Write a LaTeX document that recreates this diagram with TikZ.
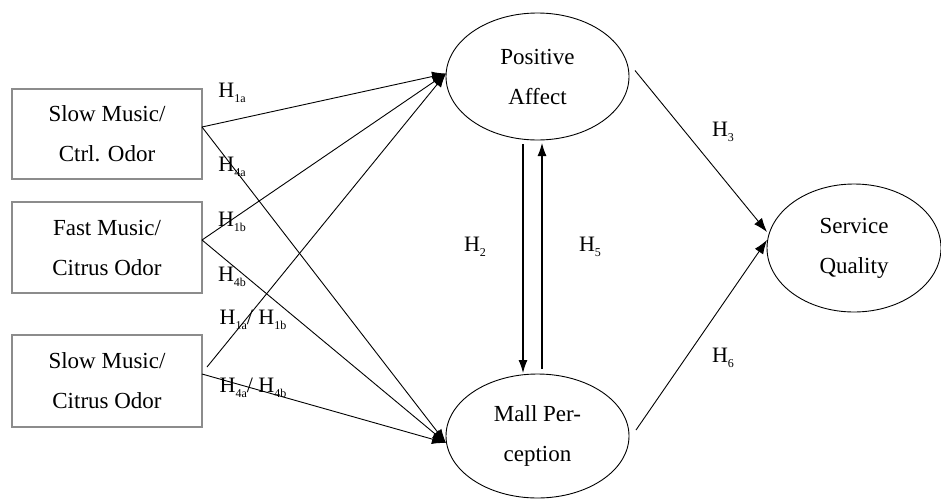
\documentclass[tikz,border=0pt]{standalone}
\usepackage{fontspec}
\setmainfont{Liberation Serif}
\usetikzlibrary{shapes.geometric,arrows.meta}
\newcommand\hyp[1]{H\raisebox{-0.45ex}{\fontsize{12}{12}\selectfont #1}}
\begin{document}
\begin{tikzpicture}[x=1pt,y=-1pt,
  every node/.style={inner sep=0pt,outer sep=0pt},
  txt/.style={font=\fontsize{23}{40}\selectfont,align=center},
  boxnode/.style={draw=black!45,line width=1.4pt,minimum width=190pt,txt},
  ellnode/.style={draw,ellipse,line width=0.9pt,txt},
  lab/.style={font=\fontsize{22}{24}\selectfont},
  arr/.style={line width=0.9pt,-{Latex[length=14pt,width=10pt]}},
  varr/.style={line width=1.1pt,-{Latex[length=13pt,width=9pt]}}]
\useasboundingbox (0,0) rectangle (941,498);
% boxes
\node[boxnode,minimum height=90pt] (b1) at (107,134) {Slow Music/\\Ctrl. Odor};
\node[boxnode,minimum height=91pt] (b2) at (107,247.5) {Fast Music/\\Citrus Odor};
\node[boxnode,minimum height=92pt] (b3) at (107,381) {Slow Music/\\Citrus Odor};
% ellipses
\node[ellnode,minimum width=183pt,minimum height=127pt] (pa) at (537.5,76.5) {Positive\\Affect};
\node[ellnode,minimum width=183pt,minimum height=124pt] (mp) at (537.5,436) {Mall Per-\\ception};
\node[ellnode,minimum width=174pt,minimum height=128pt] (sq) at (854,248) {Service\\Quality};
% anchors
\coordinate (pain) at ([yshift=3pt]pa.west);
\coordinate (mpin) at ([yshift=-7pt]mp.west);
% arrows from boxes
\draw[arr] ([yshift=7pt]b1.east) -- (pain);
\draw[arr] ([yshift=7pt]b1.east) -- (mpin);
\draw[arr] ([yshift=7.5pt]b2.east) -- (pain);
\draw[arr] ([yshift=7.5pt]b2.east) -- (mpin);
\draw[arr] ([xshift=5pt,yshift=14pt]b3.east) -- (pain);
\draw[arr] ([yshift=7pt]b3.east) -- (mpin);
% vertical arrows
\draw[varr] ([xshift=-14.5pt,yshift=-4pt]pa.south) -- ([xshift=-14.5pt,yshift=1pt]mp.north);
\draw[varr] ([xshift=4.5pt,yshift=5pt]mp.north) -- ([xshift=4.5pt,yshift=-3pt]pa.south);
% to service quality
\draw[arr] ([xshift=6pt,yshift=6pt]pa.east) -- ([yshift=16pt]sq.west);
\draw[arr] ([xshift=7pt,yshift=6pt]mp.east) -- ([yshift=8pt]sq.west);
% labels
\node[lab] (l1a) at (232,93) {\hyp{1a}};
\node[lab] (l4a) at (232,167) {\hyp{4a}};
\node[lab] (l1b) at (232,222) {\hyp{1b}};
\node[lab] (l4b) at (232,277) {\hyp{4b}};
\node[lab] (l1ab) at (253,320) {\hyp{1a}/ \hyp{1b}};
\node[lab] (l4ab) at (253,388) {\hyp{4a}/ \hyp{4b}};
\node[lab] (l2) at (475,247) {\hyp{2}};
\node[lab] (l5) at (590,247) {\hyp{5}};
\node[lab] (l3) at (723,132) {\hyp{3}};
\node[lab] (l6) at (723,358) {\hyp{6}};
\end{tikzpicture}
\end{document}
